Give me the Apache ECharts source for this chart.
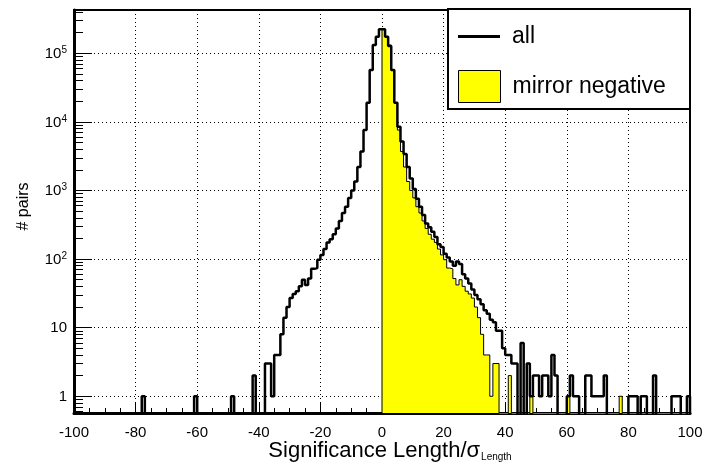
<!DOCTYPE html>
<html>
<head>
<meta charset="utf-8">
<title>Significance Length</title>
<script src="https://cdn.jsdelivr.net/npm/echarts@6.0.0/dist/echarts.min.js"></script>
<style>
html, body { margin: 0; padding: 0; background: #fff; }
#main { width: 706px; height: 468px; }
</style>
</head>
<body>
<div id="main"></div>
<script>
// histogram, bins of width 1 from -100 to 100
var binWidth = 1

// "all", bins -100 .. -1
var allNeg = [
  0, 0, 0, 0, 0, 0, 0, 0, 0, 0, 0, 0, 0, 0, 0, 0, 0, 0, 0, 0, 0, 0,
  1,
  0, 0, 0, 0, 0, 0, 0, 0, 0, 0, 0, 0, 0, 0, 0, 0,
  1,
  0, 0, 0, 0, 0, 0, 0, 0, 0, 0, 0,
  1,
  0, 0, 0, 0, 0, 0,
  2,
  0, 0, 0,
  3, 3, 1, 4, 4, 8, 14, 20, 27, 31,
  34, 40, 50, 42, 52, 72, 74, 98, 115, 140,
  175, 195, 230, 280, 360, 470, 580, 780, 1000, 1350,
  2200, 3700, 7600, 19000, 57000, 132000, 175000, 225000
]

// "all", bins 0 .. 99
var allPos = [
  225000, 175000, 128000, 57000, 19000, 8500, 5200, 3400, 2200, 1500,
  1050, 760, 580, 440, 330, 290, 250, 210, 165, 150,
  120, 105, 92, 80, 92, 85, 60, 52, 44, 36,
  30, 26, 22, 18, 16, 13, 12, 9, 9, 5,
  4, 4, 3, 3, 0, 6, 0, 3, 1, 2,
  2, 1, 2, 2, 1, 4, 2, 0, 0, 0,
  1, 2, 1, 1, 0, 0, 2, 2, 1, 1,
  1, 1, 2, 0, 0, 0, 0, 0, 0, 0,
  1, 1, 1, 0, 1, 1, 0, 0, 2, 0,
  0, 0, 0, 0, 1, 1, 1, 0, 0, 1
]

// "mirror negative", bins 0 .. 99
var mirrorPos = [
  225000, 175000, 132000, 57000, 19000, 7600, 3700, 2200, 1350, 1000,
  780, 580, 470, 360, 280, 230, 195, 175, 140, 115,
  98, 74, 72, 52, 42, 50, 40, 34, 31, 27,
  20, 14, 8, 4, 4, 1, 3, 3, 0, 0,
  0, 2, 0, 0, 0, 0, 0, 0, 1, 0,
  0, 0, 0, 0, 0, 0, 0, 0, 0, 0,
  1, 0, 0, 0, 0, 0, 0, 0, 0, 0,
  0, 0, 0, 0, 0, 0, 0, 1, 0, 0,
  0, 0, 0, 0, 0, 0, 0, 0, 0, 0,
  0, 0, 0, 0, 0, 0, 0, 0, 0, 0
]

var yTicks = [1, 10, 100, 1000, 10000, 100000]
var yMin = 0.57
var yMax = 4.28e5
var FLOOR = 0.1 // empty bins fall below the axis and get clipped
var font = "'Liberation Sans', Arial, sans-serif"

// outline points for a step histogram (left bin edges)
function steps(lo, values) {
  var pts = [[lo, FLOOR]]
  values.forEach(function (v, i) {
    pts.push([lo + i * binWidth, v > 0 ? v : FLOOR])
  })
  pts.push([lo + values.length * binWidth, FLOOR])
  return pts
}

// log minor ticks 2..9 x 10^n
var yMinor = []
for (var n = -1; n <= 5; n++) {
  for (var k = 2; k <= 9; k++) {
    var t = k * Math.pow(10, n)
    if (t > yMin && t < yMax) yMinor.push(t)
  }
}

var dotted = { color: '#000', type: [1, 3], width: 1 }

var myChart = echarts.init(document.getElementById('main'))
myChart.setOption({
  animation: false,
  backgroundColor: '#fff',
  grid: {
    left: 74, right: 16, top: 10, bottom: 55,
    show: true, borderColor: '#000', borderWidth: 2,
    backgroundColor: 'transparent',
    outerBoundsMode: 'none'
  },
  xAxis: {
    type: 'value', min: -100, max: 100, interval: 20,
    axisLine: { show: true, onZero: false, lineStyle: { color: '#000', width: 3 } },
    axisTick: { show: true, inside: true, length: 10, lineStyle: { color: '#000', width: 1 } },
    minorTick: { show: true, splitNumber: 4, length: 5, lineStyle: { color: '#000', width: 1 } },
    axisLabel: { color: '#000', fontSize: 15, fontFamily: font, margin: 12 },
    splitLine: { show: true, lineStyle: dotted },
    name: '{m|Significance Length/σ}{sub|Length}',
    nameLocation: 'middle', nameGap: 27, nameMoveOverlap: false,
    nameTextStyle: {
      color: '#000', fontFamily: font, padding: [0, 0, 0, 16],
      rich: {
        m: { fontSize: 22, lineHeight: 22, verticalAlign: 'top', fontFamily: font, color: '#000' },
        sub: { fontSize: 10, lineHeight: 10, padding: [20, 0, 0, 1], verticalAlign: 'bottom', fontFamily: font, color: '#000' }
      }
    }
  },
  yAxis: [{
    type: 'log', logBase: 10, min: yMin, max: yMax,
    axisLine: { show: true, onZero: false, lineStyle: { color: '#000', width: 3 } },
    axisTick: { show: true, inside: true, length: 18, customValues: yTicks, lineStyle: { color: '#000', width: 1 } },
    axisLabel: {
      customValues: yTicks, margin: 7,
      formatter: function (v) {
        var e = Math.round(Math.log10(v))
        if (e === 0) return '{b|1}'
        if (e === 1) return '{b|10}'
        return '{b|10}{e|' + e + '}'
      },
      rich: {
        b: { fontSize: 15, lineHeight: 16, verticalAlign: 'bottom', fontFamily: font, color: '#000' },
        e: { fontSize: 10, lineHeight: 10, padding: [0, 0, 8, 0], verticalAlign: 'top', fontFamily: font, color: '#000' }
      }
    },
    splitLine: { show: true, lineStyle: dotted },
    name: '# pairs', nameLocation: 'middle', nameGap: 42, nameRotate: 90, nameMoveOverlap: false,
    nameTextStyle: { color: '#000', fontSize: 16, fontFamily: font, padding: [0, 0, 0, 10] }
  }, {
    type: 'log', logBase: 10, min: yMin, max: yMax, position: 'left',
    axisLine: { show: false, onZero: false },
    axisLabel: { show: false },
    splitLine: { show: false },
    axisTick: { show: true, inside: true, length: 9, customValues: yMinor, lineStyle: { color: '#000', width: 1 } }
  }],
  legend: [{
    data: [{ name: 'all', icon: 'rect', itemStyle: { color: '#000', borderWidth: 0 } }],
    left: 458, top: 25, padding: 0, itemWidth: 42, itemHeight: 3, z: 20,
    selectedMode: false,
    textStyle: { fontSize: 23, color: '#000', fontFamily: font, padding: [0, 0, 0, 7] }
  }, {
    data: [{ name: 'mirror negative', icon: 'rect', itemStyle: { color: '#ffff00', borderColor: '#000', borderWidth: 1 } }],
    left: 458, top: 70, padding: 0, itemWidth: 42, itemHeight: 32, z: 20,
    selectedMode: false,
    textStyle: { fontSize: 23, color: '#000', fontFamily: font, padding: [0, 0, 0, 7] }
  }],
  graphic: [{
    type: 'rect', z: 10,
    shape: { x: 448, y: 9, width: 242, height: 100 },
    style: { fill: '#fff', stroke: '#000', lineWidth: 2 }
  }],
  series: [{
    name: 'mirror negative',
    type: 'line', step: 'end', symbol: 'none', clip: true, z: 2,
    data: steps(0, mirrorPos),
    itemStyle: { color: '#ffff00' },
    lineStyle: { color: '#000', width: 1 },
    areaStyle: { color: '#ffff00', opacity: 1, origin: 'start' }
  }, {
    name: 'all',
    type: 'line', step: 'end', symbol: 'none', clip: true, z: 3,
    data: steps(-100, allNeg.concat(allPos)),
    itemStyle: { color: '#000' },
    lineStyle: { color: '#000', width: 2.5 }
  }]
})
</script>
</body>
</html>
